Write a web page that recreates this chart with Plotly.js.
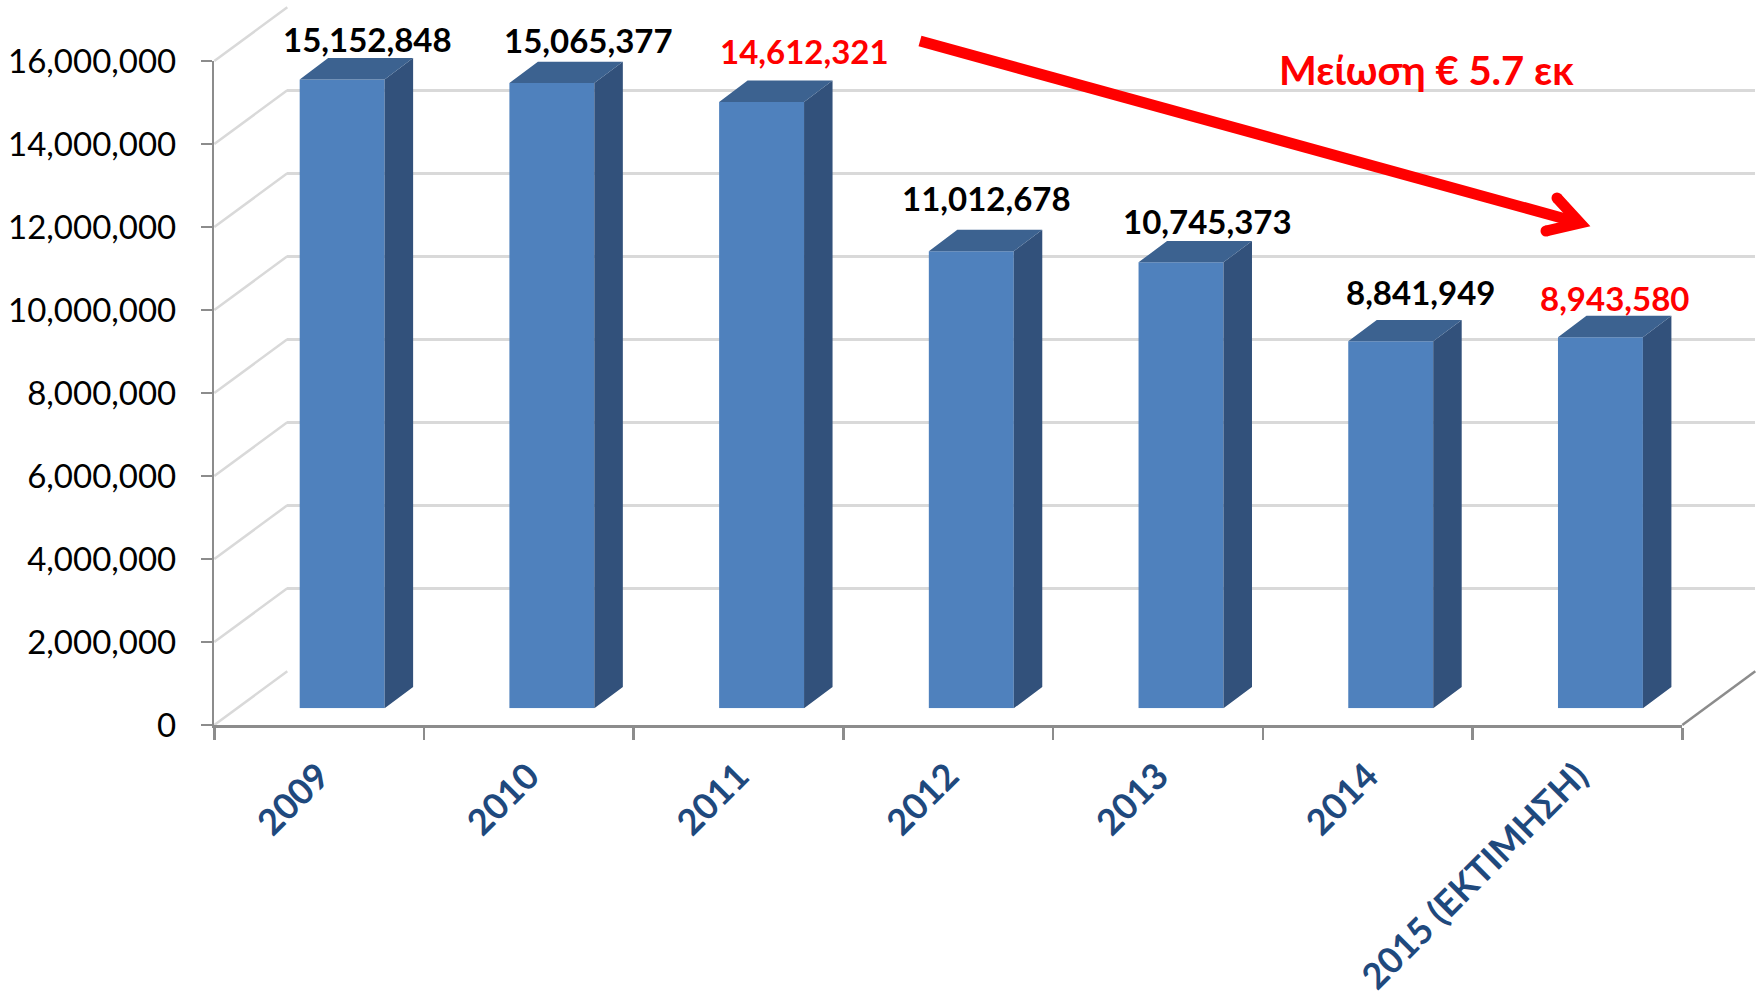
<!DOCTYPE html>
<html>
<head>
<meta charset="utf-8">
<script src="https://cdn.plot.ly/plotly-3.0.1.min.js"></script>
<style>html,body{margin:0;padding:0;background:#fff;} #chart{width:1763px;height:999px;}</style>
</head>
<body>
<div id="chart"></div>
<script>
// ---- data ----
const categories = ['2009', '2010', '2011', '2012', '2013', '2014', '2015 (ΕΚΤΙΜΗΣΗ)'];
const values = [15152848, 15065377, 14612321, 11012678, 10745373, 8841949, 8943580];
const yTickValues = [0, 2000000, 4000000, 6000000, 8000000, 10000000, 12000000, 14000000, 16000000];
const noteText = 'Μείωση € 5.7 εκ';

// ---- styling / layout (not data) ----
const labelColors = ['#000000', '#000000', '#FF0000', '#000000', '#000000', '#000000', '#FF0000'];
const labelNudgeX = [25, 37, 42.5, 15.5, 26, 29.5, 14];
const labelNudgeY = [40, 43.3, 50.8, 53.2, 41.8, 49, 39.5];

const W = 1763, H = 999;
const FX0 = 214.3, FX1 = 1682.3, FY0 = 725, FY1 = 61;   // front plane frame (px)
const BAR_OFF = [23, -16.7];     // bar front face plane offset (px)
const WALL_OFF = [73, -53.7];    // back wall offset (px)
const DEPTH = [28.5, -21.4];     // bar depth (px)
const BAR_W = 0.405;
const YMAX = 16000000;
const N = categories.length;
const FONT = 'Lato, "Noto Sans", sans-serif';
const AXIS_GRAY = '#8C8C8C';
const GRID_GRAY = '#D9D9D9';

const pxPerCat = (FX1 - FX0) / N;
const pxPerVal = (FY0 - FY1) / YMAX;
const ddx = DEPTH[0] / pxPerCat;
const ddy = -DEPTH[1] / pxPerVal;

function xdom(off) { return [(FX0 + off) / W, (FX1 + off) / W]; }
function ydom(off) { return [1 - (FY0 + off) / H, 1 - (FY1 + off) / H]; }
function PX(x) { return x / W; }
function PY(y) { return 1 - y / H; }
function frontY(v) { return FY0 - v * pxPerVal; }

const idx = categories.map((c, i) => i);

// side & top faces of the bars
const sideX = [], sideY = [], topX = [], topY = [];
values.forEach((v, i) => {
  const r = i + BAR_W / 2, l = i - BAR_W / 2;
  sideX.push(r, r + ddx, r + ddx, r, r, null);
  sideY.push(0, ddy, v + ddy, v, 0, null);
  topX.push(l, r, r + ddx, l + ddx, l, null);
  topY.push(v, v, v + ddy, v + ddy, v, null);
});

const traces = [
  { type: 'scatter', x: [null], y: [null], xaxis: 'x', yaxis: 'y', showlegend: false, hoverinfo: 'skip' },
  { type: 'bar', x: idx, y: values, width: BAR_W, xaxis: 'x2', yaxis: 'y2',
    marker: { color: '#4F81BD', line: { width: 0 } }, showlegend: false, hoverinfo: 'skip' },
  { type: 'scatter', mode: 'lines', x: sideX, y: sideY, xaxis: 'x2', yaxis: 'y2', fill: 'toself',
    fillcolor: '#32517B', line: { width: 0, color: '#32517B' }, showlegend: false, hoverinfo: 'skip' },
  { type: 'scatter', mode: 'lines', x: topX, y: topY, xaxis: 'x2', yaxis: 'y2', fill: 'toself',
    fillcolor: '#3C6290', line: { width: 0, color: '#3C6290' }, showlegend: false, hoverinfo: 'skip' },
  { type: 'scatter', x: [null], y: [null], xaxis: 'x3', yaxis: 'y3', showlegend: false, hoverinfo: 'skip' }
];

const hidden = { showgrid: false, zeroline: false, showline: false, showticklabels: false, ticks: '', fixedrange: true };

const shapes = [];
yTickValues.forEach(v => {
  const y = frontY(v);
  shapes.push({ type: 'line', xref: 'paper', yref: 'paper', layer: 'below',
    x0: PX(FX0), y0: PY(y), x1: PX(FX0 + WALL_OFF[0]), y1: PY(y + WALL_OFF[1]),
    line: { color: GRID_GRAY, width: 2.5 } });
});
// right edge of floor
shapes.push({ type: 'line', xref: 'paper', yref: 'paper',
  x0: PX(FX1), y0: PY(FY0), x1: PX(FX1 + WALL_OFF[0]), y1: PY(FY0 + WALL_OFF[1]),
  line: { color: AXIS_GRAY, width: 2.5 } });
// arrow
const A0 = [920, 41], AV = [1580, 223], ARM1 = [1557, 198], ARM2 = [1546, 231];
shapes.push({ type: 'line', xref: 'paper', yref: 'paper',
  x0: PX(A0[0]), y0: PY(A0[1]), x1: PX(AV[0]), y1: PY(AV[1]), line: { color: '#FF0000', width: 11 } });
shapes.push({ type: 'path', xref: 'paper', yref: 'paper',
  path: `M ${PX(ARM1[0])} ${PY(ARM1[1])} L ${PX(AV[0])} ${PY(AV[1])} L ${PX(ARM2[0])} ${PY(ARM2[1])}`,
  line: { color: '#FF0000', width: 11 } });
[ARM1, ARM2].forEach(p => {
  const r = 5.5;
  shapes.push({ type: 'circle', xref: 'paper', yref: 'paper',
    x0: PX(p[0] - r), x1: PX(p[0] + r), y0: PY(p[1] + r), y1: PY(p[1] - r),
    fillcolor: '#FF0000', line: { width: 0 } });
});

const annotations = values.map((v, i) => ({
  xref: 'x2', yref: 'y2', x: idx[i], y: v, xshift: labelNudgeX[i], yshift: labelNudgeY[i],
  text: v.toLocaleString('en-US'), showarrow: false, xanchor: 'center', yanchor: 'middle',
  font: { family: FONT, size: 33, color: labelColors[i], weight: 700 }
}));
annotations.push({
  xref: 'paper', yref: 'paper', x: PX(1426), y: PY(70), text: noteText, showarrow: false,
  xanchor: 'center', yanchor: 'middle',
  font: { family: FONT, size: 40, color: '#FF0000', weight: 700 }
});

const layout = {
  width: W, height: H,
  margin: { l: 0, r: 0, t: 0, b: 0, pad: 0 },
  paper_bgcolor: '#FFFFFF', plot_bgcolor: 'rgba(0,0,0,0)',
  showlegend: false,
  // back wall
  xaxis: Object.assign({ domain: xdom(WALL_OFF[0]), range: [-0.5, N - 0.5], anchor: 'y' }, hidden),
  yaxis: Object.assign({}, hidden, { domain: ydom(WALL_OFF[1]), range: [0, YMAX], anchor: 'x',
    tickmode: 'array', tickvals: yTickValues, showgrid: true, gridcolor: GRID_GRAY, gridwidth: 3 }),
  // bar plane
  xaxis2: Object.assign({ domain: xdom(BAR_OFF[0]), range: [-0.5, N - 0.5], anchor: 'y2' }, hidden),
  yaxis2: Object.assign({ domain: ydom(BAR_OFF[1]), range: [0, YMAX], anchor: 'x2' }, hidden),
  // front plane (visible axes)
  xaxis3: {
    domain: xdom(0), range: [-0.5, N - 0.5], anchor: 'y3',
    tickmode: 'array', tickvals: idx, ticktext: categories, tickangle: -45, ticks: '',
    showline: true, linecolor: AXIS_GRAY, linewidth: 2.5, showgrid: false, zeroline: false,
    tickfont: { family: FONT, size: 36, color: '#1F497D', weight: 700 },
    minor: { tickmode: 'linear', tick0: -0.5, dtick: 1, ticks: 'outside', ticklen: 12, tickwidth: 2.5, tickcolor: AXIS_GRAY, showgrid: false },
    ticklabelstandoff: 13, fixedrange: true
  },
  yaxis3: {
    domain: ydom(0), range: [0, YMAX], anchor: 'x3',
    tickmode: 'array', tickvals: yTickValues, tickformat: ',d',
    ticks: 'outside', ticklen: 11, tickwidth: 2.5, tickcolor: AXIS_GRAY,
    showline: true, linecolor: AXIS_GRAY, linewidth: 2.5, showgrid: false, zeroline: false,
    tickfont: { family: FONT, size: 33, color: '#000000' },
    ticklabelstandoff: 18, fixedrange: true
  },
  shapes: shapes,
  annotations: annotations
};

Plotly.newPlot('chart', traces, layout, { staticPlot: true, displayModeBar: false });
</script>
</body>
</html>
